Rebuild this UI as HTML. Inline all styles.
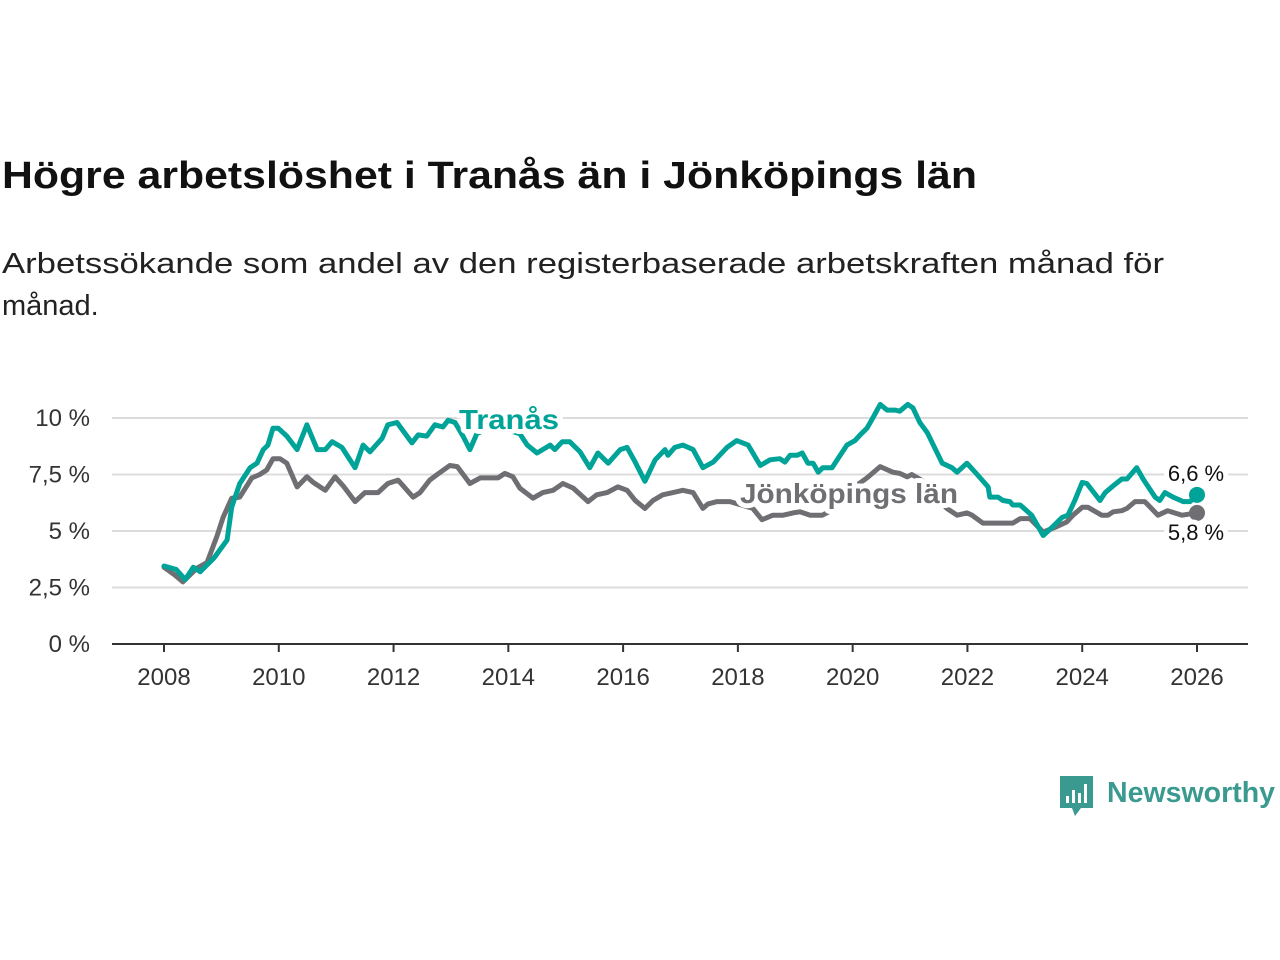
<!DOCTYPE html>
<html><head><meta charset="utf-8"><style>
html,body{margin:0;padding:0;background:#fff;}
svg{display:block;font-family:"Liberation Sans","DejaVu Sans",sans-serif;}
</style></head><body>
<svg id="chart" width="1280" height="960" viewBox="0 0 1280 960" xmlns="http://www.w3.org/2000/svg">
<text x="2" y="188" font-size="38" font-weight="bold" fill="#111" textLength="975" lengthAdjust="spacingAndGlyphs">Högre arbetslöshet i Tranås än i Jönköpings län</text>
<text x="2" y="273" font-size="29" fill="#222" textLength="1162" lengthAdjust="spacingAndGlyphs">Arbetssökande som andel av den registerbaserade arbetskraften månad för</text>
<text x="2" y="315" font-size="29" fill="#222">månad.</text>
<g id="grid"></g>
<g id="axes"></g>
<g id="series"></g>
<g id="labels"></g>
<g>
<path d="M1060 776 h33 v32 h-12 l-6 8 l-3 -8 h-12 z" fill="#3a9a8f"/>
<rect x="1066" y="796" width="3" height="7" fill="#fff"/>
<rect x="1072" y="790" width="3" height="13" fill="#fff"/>
<rect x="1078" y="793" width="3" height="10" fill="#fff"/>
<rect x="1084" y="784" width="3" height="19" fill="#fff"/>
<text x="1107" y="802" font-size="29" font-weight="bold" fill="#3a9a8f" textLength="168" lengthAdjust="spacingAndGlyphs">Newsworthy</text>
</g>
</svg>
<script>
const baseYear = 2008;
const yTicks = [0, 2.5, 5, 7.5, 10];
const yTickLabels = ["0 %", "2,5 %", "5 %", "7,5 %", "10 %"];
const xTicks = [2008, 2010, 2012, 2014, 2016, 2018, 2020, 2022, 2024, 2026];
const tranasT = [0,0.21,0.37,0.51,0.63,0.87,1.10,1.18,1.32,1.50,1.62,1.73,1.81,1.90,1.99,2.14,2.32,2.49,2.67,2.81,2.93,3.10,3.33,3.47,3.59,3.80,3.90,4.06,4.32,4.43,4.58,4.72,4.86,4.95,5.07,5.21,5.33,5.45,5.70,5.95,6.20,6.33,6.50,6.73,6.81,6.94,7.07,7.25,7.42,7.56,7.74,7.95,8.07,8.21,8.38,8.56,8.73,8.78,8.90,9.04,9.22,9.39,9.57,9.81,9.98,10.18,10.39,10.56,10.73,10.82,10.91,11.03,11.12,11.22,11.31,11.40,11.48,11.64,11.90,12.04,12.13,12.25,12.35,12.48,12.60,12.74,12.82,12.96,13.05,13.17,13.30,13.56,13.73,13.82,13.99,14.17,14.36,14.39,14.53,14.62,14.74,14.79,14.92,15.12,15.32,15.49,15.65,15.75,15.87,16.00,16.08,16.31,16.40,16.54,16.69,16.78,16.95,17.06,17.27,17.35,17.44,17.58,17.76,17.88,18.0];
const tranasV = [3.45,3.3,2.85,3.4,3.2,3.8,4.6,6.06,7.1,7.8,8.0,8.6,8.8,9.55,9.55,9.2,8.6,9.7,8.6,8.6,8.95,8.7,7.8,8.8,8.5,9.1,9.7,9.8,8.9,9.25,9.2,9.7,9.6,9.9,9.8,9.2,8.6,9.3,9.6,9.5,9.3,8.8,8.45,8.8,8.6,8.95,8.95,8.5,7.8,8.45,8.0,8.6,8.7,8.05,7.2,8.15,8.6,8.35,8.7,8.8,8.6,7.8,8.05,8.7,9.0,8.8,7.9,8.15,8.2,8.05,8.35,8.35,8.45,8.0,8.0,7.6,7.8,7.8,8.8,9.0,9.25,9.55,10.0,10.6,10.35,10.35,10.3,10.6,10.45,9.8,9.35,8.0,7.8,7.6,8.0,7.5,6.95,6.5,6.5,6.35,6.3,6.15,6.15,5.7,4.8,5.2,5.6,5.7,6.35,7.15,7.1,6.35,6.7,7.0,7.3,7.3,7.8,7.3,6.5,6.35,6.7,6.5,6.3,6.3,6.6];
const jonkT = [0,0.19,0.33,0.57,0.75,0.92,1.03,1.18,1.32,1.53,1.67,1.79,1.90,2.02,2.14,2.32,2.49,2.60,2.81,2.98,3.12,3.33,3.50,3.73,3.90,4.08,4.34,4.46,4.63,4.76,4.98,5.11,5.33,5.51,5.82,5.94,6.08,6.20,6.43,6.60,6.78,6.95,7.13,7.39,7.54,7.72,7.91,8.07,8.21,8.38,8.52,8.69,8.87,9.04,9.22,9.39,9.48,9.64,9.86,10.26,10.42,10.61,10.79,10.96,11.08,11.26,11.47,11.70,11.95,12.25,12.48,12.70,12.82,12.95,13.03,13.30,13.50,13.64,13.82,13.99,14.08,14.27,14.79,14.92,15.09,15.32,15.56,15.73,15.84,16.00,16.10,16.34,16.45,16.54,16.69,16.78,16.92,17.09,17.32,17.49,17.74,18.0];
const jonkV = [3.4,3.05,2.75,3.35,3.6,4.75,5.6,6.45,6.5,7.35,7.5,7.7,8.2,8.2,8.0,6.95,7.4,7.15,6.8,7.4,7.0,6.3,6.7,6.7,7.1,7.25,6.5,6.7,7.25,7.5,7.9,7.85,7.1,7.35,7.35,7.55,7.4,6.9,6.45,6.7,6.8,7.1,6.9,6.3,6.6,6.7,6.95,6.8,6.35,6.0,6.35,6.6,6.7,6.8,6.7,6.0,6.2,6.3,6.3,6.0,5.5,5.7,5.7,5.8,5.85,5.7,5.7,6.0,6.8,7.35,7.85,7.6,7.55,7.4,7.5,7.1,6.4,6.0,5.7,5.8,5.7,5.35,5.35,5.55,5.55,4.95,5.2,5.4,5.7,6.05,6.05,5.7,5.7,5.85,5.9,6.0,6.3,6.3,5.7,5.9,5.7,5.8];
const lastLabels = ["6,6 %", "5,8 %"];

const NS = "http://www.w3.org/2000/svg";
const x0 = 164, x1 = 1197, y0 = 644, y10 = 418;
function xs(year){ return x0 + (year - 2008) / 18 * (x1 - x0); }
function ys(v){ return y0 - v / 10 * (y0 - y10); }
function mk(tag, attrs, parent){ const e = document.createElementNS(NS, tag); for (const k in attrs) e.setAttribute(k, attrs[k]); parent.appendChild(e); return e; }
const grid = document.getElementById('grid'), axes = document.getElementById('axes'), series = document.getElementById('series'), labels = document.getElementById('labels');
yTicks.forEach((v, i) => {
  if (v > 0) {
    const l = mk('line', {x1:112, x2:1248, y1:ys(v), y2:ys(v), stroke:'#dcdcdc', 'stroke-width':2}, grid);
    
    
  }
  const t = mk('text', {x:90, y:ys(v)+8, 'text-anchor':'end', 'font-size':24, fill:'#333'}, axes);
  t.textContent = yTickLabels[i];
  
  
});
const ax = mk('line', {x1:112, x2:1248, y1:y0, y2:y0, stroke:'#333', 'stroke-width':2}, axes);


xTicks.forEach(yr => {
  const tk = mk('line', {x1:xs(yr), x2:xs(yr), y1:y0, y2:y0+8, stroke:'#333', 'stroke-width':2}, axes);
  
  
  const t = mk('text', {x:xs(yr), y:y0+41, 'text-anchor':'middle', 'font-size':24, fill:'#333'}, axes);
  t.textContent = yr;
  
  
});
function drawLine(T, V, color, name){
  const d = T.map((t, i) => (i ? 'L' : 'M') + xs(baseYear + t).toFixed(1) + ' ' + ys(V[i]).toFixed(1)).join(' ');
  const p = mk('path', {d:d, fill:'none', stroke:color, 'stroke-width':5, 'stroke-linejoin':'round', 'stroke-linecap':'round'}, series);
  
  
  const n = T.length - 1;
  const c = mk('circle', {cx:xs(baseYear + T[n]), cy:ys(V[n]), r:8, fill:color}, series);
  
  
}
drawLine(jonkT, jonkV, '#6f6e73', 'jonkoping');
drawLine(tranasT, tranasV, '#00a398', 'tranas');
function lab(txt, x, y, color, size, bold, name, anchor, len){
  const a = {x:x, y:y, fill:color, 'font-size':size, 'font-weight':bold?'bold':'normal', stroke:'#fff', 'stroke-width':10, 'paint-order':'stroke', 'stroke-linejoin':'round', 'text-anchor':anchor||'start'};
  if (len) { a.textLength = len; a.lengthAdjust = 'spacingAndGlyphs'; }
  const t = mk('text', a, labels);
  t.textContent = txt;
  
  
}
lab('Tranås', 459, 429, '#00a398', 28, true, 'tranas-label', 'start', 100);
lab('Jönköpings län', 740, 503, '#6f6e73', 28, true, 'jonkoping-label', 'start', 218);
lab(lastLabels[0], 1196, ys(tranasV[tranasV.length-1]) - 14, '#111', 22, false, 'tranas-last-value', 'middle');
lab(lastLabels[1], 1196, ys(jonkV[jonkV.length-1]) + 27, '#111', 22, false, 'jonkoping-last-value', 'middle');
</script>
</body></html>
